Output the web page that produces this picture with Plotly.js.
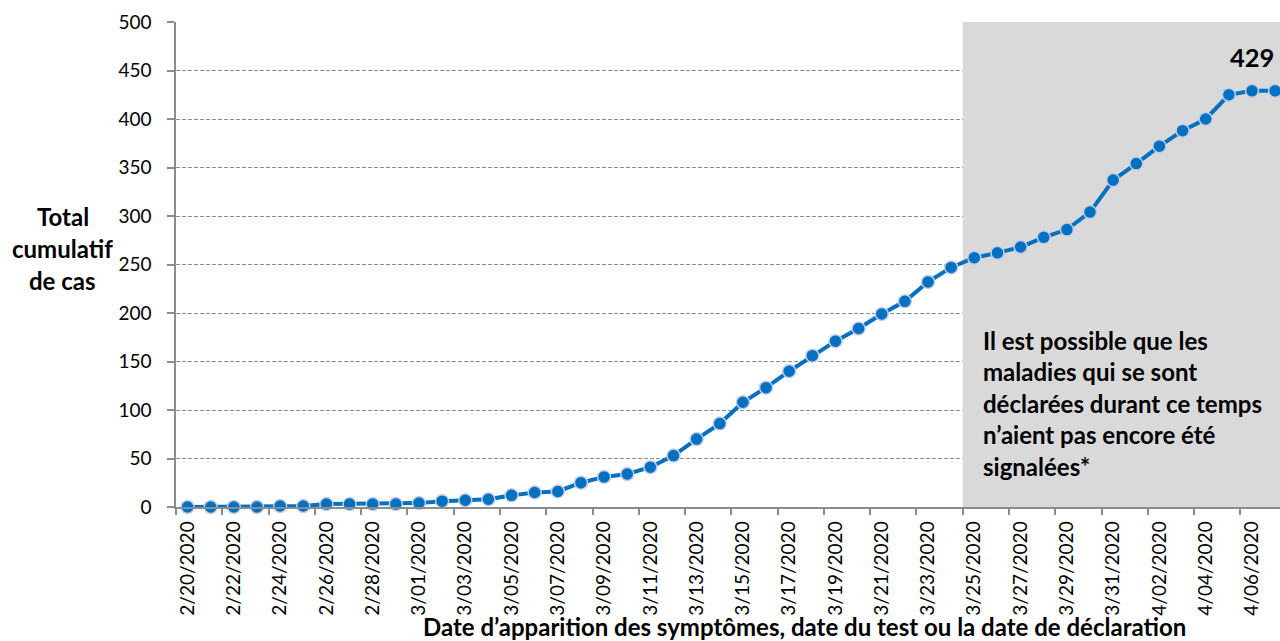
<!DOCTYPE html>
<html>
<head>
<meta charset="utf-8">
<script src="https://cdn.plot.ly/plotly-3.0.1.min.js"></script>
<style>html,body{margin:0;padding:0;overflow:hidden;background:#fff;}#chart{width:1280px;height:641px;}</style>
</head>
<body>
<div id="chart"></div>
<script>
// ---- Data ----
const dates = [
  '2/20/2020','2/21/2020','2/22/2020','2/23/2020','2/24/2020','2/25/2020','2/26/2020','2/27/2020','2/28/2020','2/29/2020',
  '3/01/2020','3/02/2020','3/03/2020','3/04/2020','3/05/2020','3/06/2020','3/07/2020','3/08/2020','3/09/2020','3/10/2020',
  '3/11/2020','3/12/2020','3/13/2020','3/14/2020','3/15/2020','3/16/2020','3/17/2020','3/18/2020','3/19/2020','3/20/2020',
  '3/21/2020','3/22/2020','3/23/2020','3/24/2020','3/25/2020','3/26/2020','3/27/2020','3/28/2020','3/29/2020','3/30/2020',
  '3/31/2020','4/01/2020','4/02/2020','4/03/2020','4/04/2020','4/05/2020','4/06/2020','4/07/2020'
];
const cumulativeCases = [
  0, 0, 0, 0, 1, 1, 3, 3, 3, 3,
  4, 6, 7, 8, 12, 15, 16, 25, 31, 34,
  41, 53, 70, 86, 108, 123, 140, 156, 171, 184,
  199, 212, 232, 247, 257, 262, 268, 278, 286, 304,
  337, 354, 372, 388, 400, 425, 429, 429
];
const yTicks = [0, 50, 100, 150, 200, 250, 300, 350, 400, 450, 500];
const shadeStart = '3/25/2020';
const peakLabelDate = '4/06/2020';
const peakLabel = '429';
const noteLines = [
  'Il est possible que les',
  'maladies qui se sont',
  'déclarées durant ce temps',
  'n’aient pas encore été',
  'signalées*'
];
const yTitleLines = ['Total', 'cumulatif', 'de cas'];
const xTitle = 'Date d’apparition des symptômes, date du test ou la date de déclaration';

// ---- Chart ----
const FONT = 'Lato, "Open Sans", sans-serif';
const shadeIdx = dates.indexOf(shadeStart);
const peakIdx = dates.indexOf(peakLabelDate);

const trace = {
  type: 'scatter',
  mode: 'lines+markers',
  x: dates,
  y: cumulativeCases,
  line: {color: '#0070C0', width: 4},
  marker: {color: '#0070C0', size: 13, line: {color: '#c3cde9', width: 1.5}},
  hoverinfo: 'x+y',
  cliponaxis: false
};

const annotations = [];
annotations.push({
  x: peakIdx, y: cumulativeCases[peakIdx], xref: 'x', yref: 'y',
  text: '<b>' + peakLabel + '</b>', showarrow: false,
  yshift: 34, xanchor: 'center', yanchor: 'middle',
  font: {family: FONT, size: 25.5, color: '#000'}
});
noteLines.forEach((t, i) => {
  annotations.push({
    x: shadeIdx, y: 172, xref: 'x', yref: 'y',
    text: '<b>' + t + '</b>', showarrow: false,
    xanchor: 'left', yanchor: 'middle', xshift: 7, yshift: -i * 31.6,
    font: {family: FONT, size: 24, color: '#000'}
  });
});
yTitleLines.forEach((t, i) => {
  annotations.push({
    x: -0.1028, y: 0.534, xref: 'paper', yref: 'paper',
    text: '<b>' + t + '</b>', showarrow: false,
    xanchor: 'center', yanchor: 'middle', yshift: 32 - i * 32,
    font: {family: FONT, size: 24, color: '#000'}
  });
});
annotations.push({
  x: 0.569, y: -0.2454, xref: 'paper', yref: 'paper',
  text: '<b>' + xTitle + '</b>', showarrow: false,
  xanchor: 'center', yanchor: 'middle',
  font: {family: FONT, size: 24, color: '#000'}
});

const layout = {
  width: 1280, height: 641,
  margin: {l: 176, r: 0, t: 22, b: 134},
  paper_bgcolor: '#ffffff', plot_bgcolor: '#ffffff',
  showlegend: false,
  font: {family: FONT, color: '#000'},
  xaxis: {
    type: 'category',
    categoryorder: 'array', categoryarray: dates,
    range: [-0.5, 47.21],
    tickmode: 'linear', dtick: 2, tick0: 0,
    tickson: 'boundaries',
    ticks: 'outside', ticklen: 6, tickcolor: '#8c8c8c', tickwidth: 1.5,
    ticklabelstandoff: 5,
    tickangle: -90,
    tickfont: {family: FONT, size: 19, color: '#000'},
    showgrid: false, zeroline: false,
    showline: true, linecolor: '#8c8c8c', linewidth: 1.5,
    fixedrange: true
  },
  yaxis: {
    range: [0, 500],
    tickvals: yTicks,
    ticktext: yTicks.map(String),
    ticks: 'outside', ticklen: 7, tickcolor: '#8c8c8c', tickwidth: 1.5,
    ticklabelstandoff: 12,
    tickfont: {family: FONT, size: 19, color: '#000'},
    showgrid: true, gridcolor: '#8c8c8c', gridwidth: 1, griddash: '4px,2px',
    zeroline: false,
    showline: true, linecolor: '#8c8c8c', linewidth: 1.5,
    fixedrange: true
  },
  shapes: [{
    type: 'rect', xref: 'x', yref: 'y',
    x0: shadeIdx - 0.5, x1: dates.length + 1, y0: 0, y1: 500,
    fillcolor: '#d9d9d9', line: {width: 0}, layer: 'between'
  }],
  annotations: annotations
};

Plotly.newPlot('chart', [trace], layout, {displayModeBar: false});
</script>
</body>
</html>
